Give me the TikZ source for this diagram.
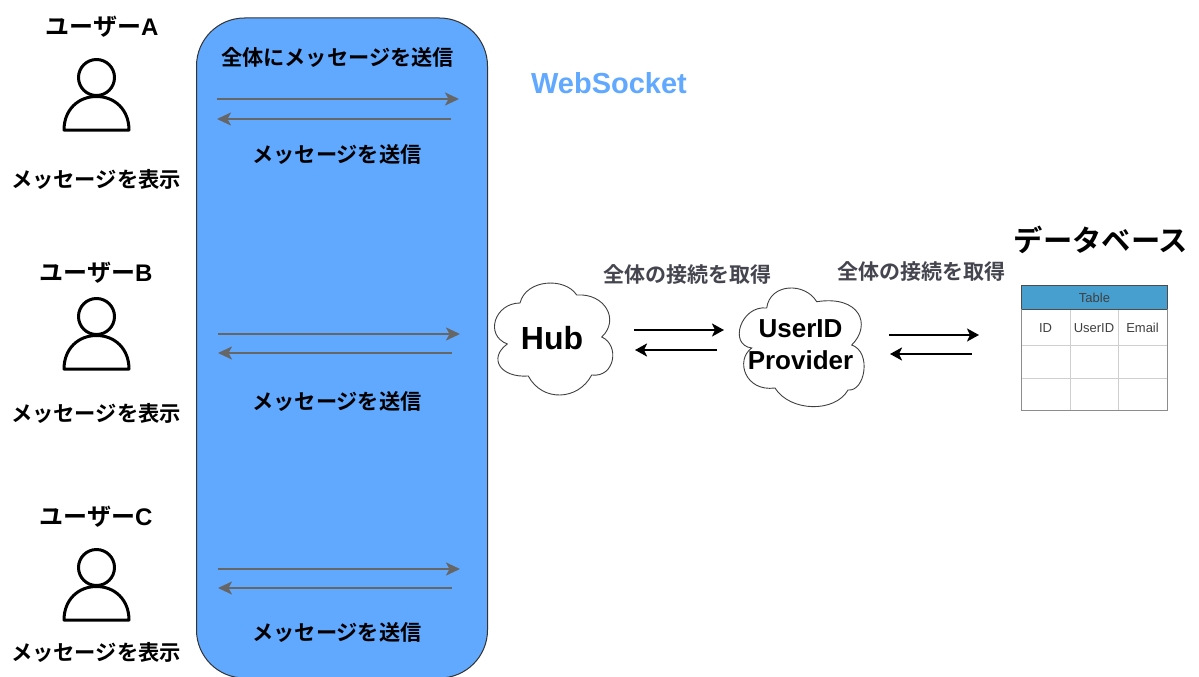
\documentclass[tikz,border=0pt]{standalone}
\usepackage{fontspec}
\setmainfont{Liberation Sans}
\newfontfamily\cjk{Noto Sans CJK JP}[BoldFont={Noto Sans CJK JP Bold}]
\usetikzlibrary{arrows.meta}
\definecolor{panelblue}{HTML}{60A9FF}
\definecolor{headblue}{HTML}{479FD0}
\definecolor{arrowgrey}{HTML}{666666}
\definecolor{labelgrey}{HTML}{45454F}
\definecolor{gridgrey}{HTML}{CFCFCF}
\definecolor{edgegrey}{HTML}{8C8C8C}
\tikzset{
  jp/.style={inner sep=0pt,font=\cjk\bfseries\fontsize{#1}{#1}\selectfont,text=black},
  jp/.default=21,
  greyarrow/.style={draw=arrowgrey,line width=2.2pt,-{Stealth[length=14pt,width=13pt,inset=3.5pt]}},
  blackarrow/.style={draw=black,line width=2.2pt,-{Stealth[length=12pt,width=13pt,inset=3pt]}},
  cloudline/.style={draw=black!75,line width=0.9pt,fill=white},
  tabletext/.style={inner sep=0pt,text=black!75,font=\fontsize{13}{13}\selectfont},
  personline/.style={draw=black,line width=3pt,line join=round},
}
\begin{document}
\begin{tikzpicture}[x=1pt,y=-1pt]
\useasboundingbox (0,0) rectangle (1199,677);
\clip (0,0) rectangle (1199,677);
\fill[white] (0,0) rectangle (1199,677);
\draw[fill=panelblue,draw=black!80,line width=1pt,rounded corners=48pt] (196.5,18) rectangle (487.5,678);

\node[jp=24] (userA) at (102,27) {ユーザー{\rmfamily\bfseries A}};
\node[jp=24] (userB) at (96,273) {ユーザー{\rmfamily\bfseries B}};
\node[jp=24] (userC) at (96,517) {ユーザー{\rmfamily\bfseries C}};
\node[jp=21.3] (showA) at (96,179) {メッセージを表示};
\node[jp=21.3] (showB) at (96,413) {メッセージを表示};
\node[jp=21.3] (showC) at (96,652) {メッセージを表示};

\draw[personline] (96.5,77.5) circle[radius=18];
\draw[personline] (64,130) .. controls (64,110) and (78,96.5) .. (96.5,96.5) .. controls (115,96.5) and (129,110) .. (129,130) -- cycle;
\draw[personline] (96.5,316.5) circle[radius=18];
\draw[personline] (64,369) .. controls (64,349) and (78,335.5) .. (96.5,335.5) .. controls (115,335.5) and (129,349) .. (129,369) -- cycle;
\draw[personline] (96.5,567.5) circle[radius=18];
\draw[personline] (64,620) .. controls (64,600) and (78,586.5) .. (96.5,586.5) .. controls (115,586.5) and (129,600) .. (129,620) -- cycle;

\node[jp=21.2] (broadcast) at (337.5,57) {全体にメッセージを送信};
\node[jp=21.2] (sendA) at (337,154) {メッセージを送信};
\node[jp=21.2] (sendB) at (337,401) {メッセージを送信};
\node[jp=21.2] (sendC) at (337,632) {メッセージを送信};

\coordinate (a1) at (216.5,99); \coordinate (a2) at (459,99);
\coordinate (a3) at (451,119); \coordinate (a4) at (217,119);
\coordinate (b1) at (217.5,334); \coordinate (b2) at (460,334);
\coordinate (b3) at (452,353); \coordinate (b4) at (218,353);
\coordinate (c1) at (217.5,569); \coordinate (c2) at (460,569);
\coordinate (c3) at (452,588); \coordinate (c4) at (218,588);
\foreach \s/\e in {a1/a2,a3/a4,b1/b2,b3/b4,c1/c2,c3/c4}
  \draw[greyarrow] (\s) -- (\e);

\node[inner sep=0pt,text=panelblue,font=\bfseries\fontsize{29}{29}\selectfont] (ws) at (609,83) {WebSocket};

% Hub cloud
\draw[cloudline] (520,303)
  .. controls (526,279) and (565,277) .. (576.7,295)
  .. controls (605,293) and (620,320) .. (601.7,337)
  .. controls (620,345) and (615,378) .. (591.7,375)
  .. controls (578,401) and (542,402) .. (528.3,376)
  .. controls (500,378) and (488,358) .. (507.3,344)
  .. controls (484,335) and (495,303) .. (520,303) -- cycle;
\node[inner sep=0pt,font=\bfseries\fontsize{32}{32}\selectfont] (hub) at (552,338) {Hub};

% UserID Provider cloud
\draw[cloudline] (766.7,308)
  .. controls (770,283) and (805,282) .. (816.7,301.7)
  .. controls (860,295) and (872,325) .. (851.7,345)
  .. controls (872,352) and (865,392) .. (848,390)
  .. controls (835,413) and (790,412) .. (775,388)
  .. controls (745,392) and (735,360) .. (751.7,348)
  .. controls (728,345) and (741,305) .. (766.7,308) -- cycle;
\node[inner sep=0pt,align=center,font=\bfseries\fontsize{26}{32}\selectfont] (uid) at (800.5,345) {UserID\\Provider};

\coordinate (h1) at (634,330); \coordinate (h2) at (724,330);
\coordinate (h3) at (717,350); \coordinate (h4) at (635,350);
\coordinate (d1) at (889,335); \coordinate (d2) at (979,335);
\coordinate (d3) at (972,354); \coordinate (d4) at (890,354);
\foreach \s/\e in {h1/h2,h3/h4,d1/d2,d3/d4}
  \draw[blackarrow] (\s) -- (\e);

\node[jp=21,text=labelgrey] (getH) at (687,275) {全体の接続を取得};
\node[jp=21,text=labelgrey] (getD) at (921,272) {全体の接続を取得};
\node[jp=29.3] (db) at (1101,240) {データベース};

% table
\fill[white] (1021.5,309) rectangle (1167,410);
\draw[gridgrey,line width=1pt] (1070,309) -- (1070,410) (1118.5,309) -- (1118.5,410)
  (1021.5,345.5) -- (1167,345.5) (1021.5,378) -- (1167,378);
\draw[fill=headblue,draw=black!70,line width=1pt] (1021.5,285) rectangle (1167,309);
\draw[edgegrey,line width=1pt] (1021.5,309) -- (1021.5,410) -- (1167,410) -- (1167,309);
\node[tabletext] (tt) at (1094.5,298) {Table};
\node[tabletext] (c1h) at (1045.5,328) {ID};
\node[tabletext] (c2h) at (1094,328) {UserID};
\node[tabletext] (c3h) at (1142.5,328) {Email};
\end{tikzpicture}
\end{document}
